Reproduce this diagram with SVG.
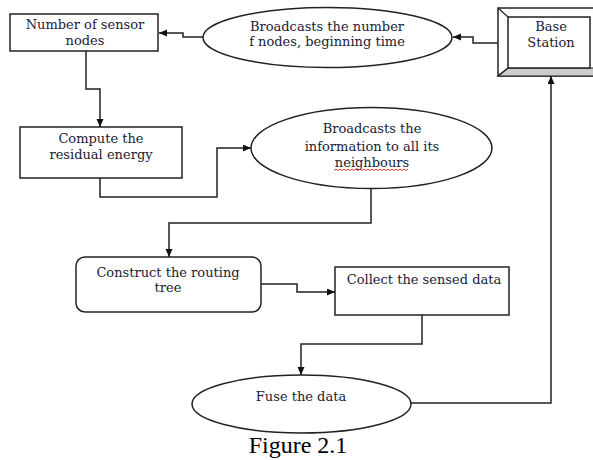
<svg xmlns="http://www.w3.org/2000/svg" width="593" height="460" viewBox="0 0 593 460">
<style>
.n{fill:#fff;stroke:#222;stroke-width:1.5}
.t{font-family:"DejaVu Serif",serif;font-size:13px;fill:#1a1a33;text-anchor:middle}
.c{fill:none;stroke:#222;stroke-width:1.5}
</style>
<defs>
<marker id="ah" markerUnits="userSpaceOnUse" markerWidth="9" markerHeight="8" refX="8" refY="3.5" orient="auto">
<path d="M0,0 L8,3.5 L0,7 z" fill="#111"/>
</marker>
</defs>
<rect width="593" height="460" fill="#fff"/>
<g id="connectors">
<path class="c" d="M498,43 H473 V37 H453" marker-end="url(#ah)"/>
<path class="c" d="M203,37 H183 V33 H159" marker-end="url(#ah)"/>
<path class="c" d="M86,51 V89 H100 V127" marker-end="url(#ah)"/>
<path class="c" d="M100,178 V197 H217 V148 H251" marker-end="url(#ah)"/>
<path class="c" d="M371,188 V223 H169 V257" marker-end="url(#ah)"/>
<path class="c" d="M261,284 H297 V292 H335" marker-end="url(#ah)"/>
<path class="c" d="M422,315 V344 H301 V375" marker-end="url(#ah)"/>
<path class="c" d="M411,403 H551 V76" marker-end="url(#ah)"/>
</g>
<g id="base-station">
<rect x="498" y="8" width="110" height="68" class="n"/>
<path d="M498,76 L508,68 H600 V76 Z" fill="#ccc" stroke="#222" stroke-width="1.2"/>
<path d="M498,8 L508,17 M498,76 L508,68" stroke="#222" stroke-width="1.2"/>
<rect x="508" y="17" width="82" height="51" class="n"/>
<text class="t" x="551" y="31">Base</text>
<text class="t" x="551" y="47">Station</text>
</g>
<g id="broadcast-number">
<ellipse cx="327.5" cy="37.5" rx="124.5" ry="30" class="n"/>
<text class="t" x="327" y="31">Broadcasts the number</text>
<text class="t" x="327" y="46">f nodes, beginning time</text>
</g>
<g id="number-sensor-nodes">
<rect x="10" y="14" width="148" height="37" class="n"/>
<text class="t" x="85" y="29">Number of sensor</text>
<text class="t" x="85" y="45">nodes</text>
</g>
<g id="compute-energy">
<rect x="20" y="127" width="162" height="51" class="n"/>
<text class="t" x="101" y="143">Compute the</text>
<text class="t" x="101" y="159">residual energy</text>
</g>
<g id="broadcast-info">
<ellipse cx="371.5" cy="148" rx="120.5" ry="40.5" class="n"/>
<text class="t" x="372" y="133">Broadcasts the</text>
<text class="t" x="372" y="151">information to all its</text>
<text class="t" x="372" y="167">neighbours</text>
<path d="M334,170.5 l2,-1.5 l2,1.5 l2,-1.5 l2,1.5 l2,-1.5 l2,1.5 l2,-1.5 l2,1.5 l2,-1.5 l2,1.5 l2,-1.5 l2,1.5 l2,-1.5 l2,1.5 l2,-1.5 l2,1.5 l2,-1.5 l2,1.5 l2,-1.5 l2,1.5 l2,-1.5 l2,1.5 l2,-1.5 l2,1.5 l2,-1.5 l2,1.5 l2,-1.5 l2,1.5 l2,-1.5 l2,1.5 l2,-1.5 l2,1.5 l2,-1.5 l2,1.5 l2,-1.5 l2,1.5 l2,-1.5" fill="none" stroke="#d22" stroke-width="0.9"/>
</g>
<g id="construct-tree">
<rect x="76" y="257" width="185" height="55" rx="9" ry="9" class="n"/>
<text class="t" x="168" y="277">Construct the routing</text>
<text class="t" x="168" y="292">tree</text>
</g>
<g id="collect-data">
<rect x="335" y="267" width="174" height="48" class="n"/>
<text class="t" x="424" y="284">Collect the sensed data</text>
</g>
<g id="fuse-data">
<ellipse cx="301.5" cy="404" rx="109.5" ry="29" class="n"/>
<text class="t" x="301" y="401">Fuse the data</text>
</g>
<text x="298" y="453" font-family="Liberation Serif,serif" font-size="24" fill="#000" text-anchor="middle">Figure 2.1</text>
</svg>
